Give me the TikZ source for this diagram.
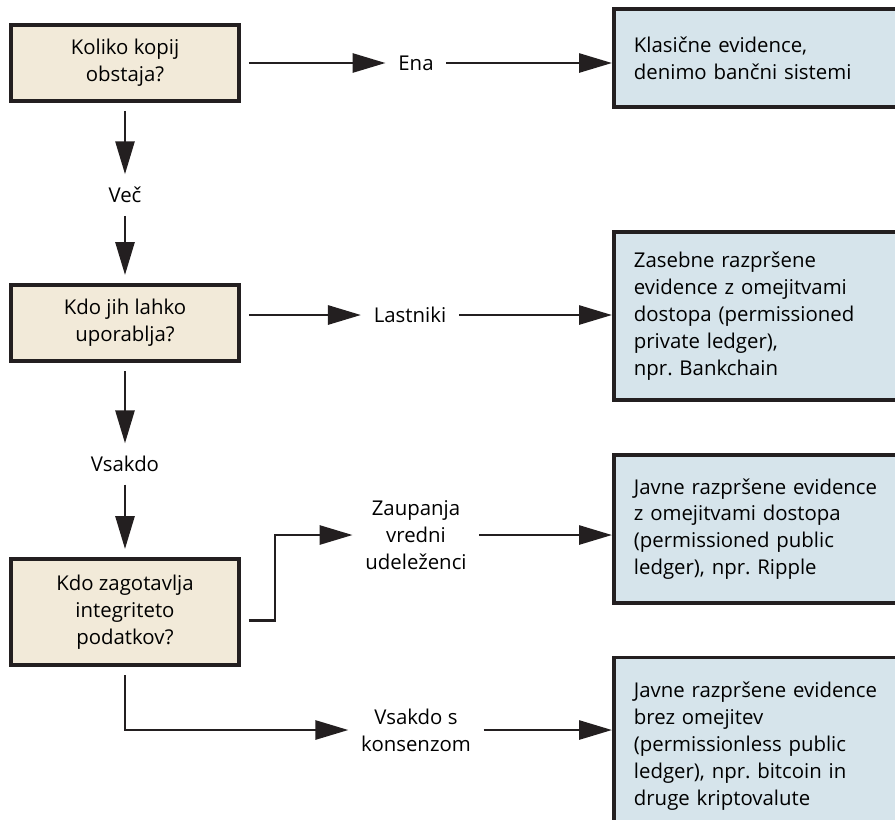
\documentclass[tikz,border=0pt]{standalone}
\usepackage{fontspec}
\setmainfont{Open Sans}
\frenchspacing
\usetikzlibrary{arrows.meta}
\definecolor{qfill}{HTML}{F2EAD9}
\definecolor{afill}{HTML}{D6E4EB}
\definecolor{ink}{HTML}{231F20}
\tikzset{
 >={Triangle[length=0.66cm,width=0.38cm]},
 question/.style={draw=ink, line width=2.2pt, fill=qfill, minimum width=4.56cm, align=center, outer sep=0.2cm},
 answer/.style={draw=ink, line width=2.2pt, fill=afill, anchor=west, text width=7cm, align=left, inner xsep=0.4cm},
 choice/.style={align=center, inner sep=0.25cm},
 link/.style={->, line width=1.6pt, draw=ink}
}

\begin{document}
\begin{tikzpicture}[x=0.02cm, y=-0.02cm, font=\fontsize{11.6}{15.3}\selectfont]
 \clip (0,0) rectangle (895,819);
 % questions
 \node[question, minimum height=1.52cm] (Q1) at (125,63)  {Koliko kopij\\obstaja?};
 \node[question, minimum height=1.52cm] (Q2) at (125,323) {Kdo jih lahko\\uporablja?};
 \node[question, minimum height=2.12cm] (Q3) at (125,612) {Kdo zagotavlja\\integriteto\\podatkov?};
 % answers
 \node[answer, minimum height=1.96cm] (R1) at (612,58)  {Klasične evidence,\\denimo bančni sistemi};
 \node[answer, minimum height=3.36cm] (R2) at (612,316) {Zasebne razpršene\\evidence z omejitvami\\dostopa (permissioned\\private ledger),\\npr. Bankchain};
 \node[answer, minimum height=2.96cm] (R3) at (612,529) {Javne razpršene evidence\\z omejitvami dostopa\\(permissioned public\\ledger), npr. Ripple};
 \node[answer, minimum height=3.54cm] (R4) at (612,746) {Javne razpršene evidence\\brez omejitev\\(permissionless public\\ledger), npr. bitcoin in\\druge kriptovalute};
 % choices
 \node[choice] (Ena) at (416,63)  {Ena};
 \node[choice] (Vec) at (125,195) {Več};
 \node[choice] (Last) at (410,315) {Lastniki};
 \node[choice] (Vsak) at (125,464) {Vsakdo};
 \node[choice] (Zaup) at (416,535) {Zaupanja\\vredni\\udeleženci};
 \node[choice] (Kons) at (416,730) {Vsakdo s\\konsenzom};
 \draw[link] (Q1) to (Ena);
 \draw[link] (Ena) -- (Ena -| R1.west);
 \draw[link] (Q1) to (Vec);
 \draw[link] (Vec) to (Q2);
 \draw[link] (Last -| Q2.east) -- (Last);
 \draw[link] (Last) -- (Last -| R2.west);
 \draw[link] (Q2) to (Vsak);
 \draw[link] (Vsak) to (Q3);
 \draw[link] ([yshift=-5]Q3.east) -- ++(26,0) |- (Zaup.west);
 \draw[link] (Zaup) -- (Zaup -| R3.west);
 \draw[link] (Q3.south) |- (Kons.west);
 \draw[link] (Kons) -- (Kons -| R4.west);
\end{tikzpicture}
\end{document}
